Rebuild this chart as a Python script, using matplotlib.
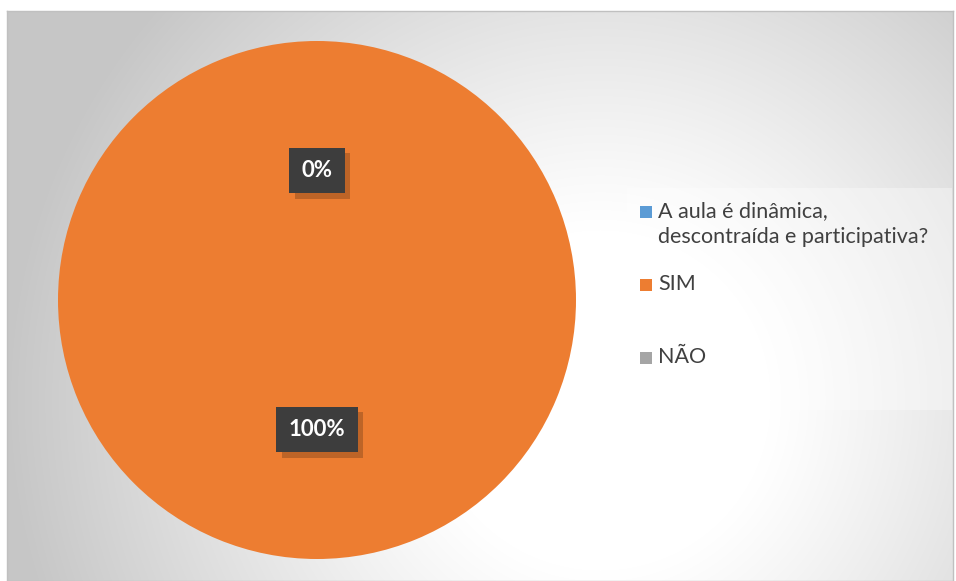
import numpy as np
import matplotlib
matplotlib.use("Agg")
import matplotlib.pyplot as plt
import matplotlib.patheffects as pe
from matplotlib.patches import Rectangle

# data
categories = ["A aula é dinâmica,\ndescontraída e participativa?", "SIM", "NÃO"]
values = [0, 100, 0]
colors = ["#5B9BD5", "#ED7D31", "#A5A5A5"]

plt.rcParams['font.family'] = ['Lato', 'DejaVu Sans']

W, H = 956, 581
fig = plt.figure(figsize=(W / 100, H / 100), dpi=100)
fig.patch.set_facecolor("white")

# chart area with a radial grey-to-white gradient
bx0, by0, bx1, by1 = 7, 11, 953, 581
bg = fig.add_axes([bx0 / W, 1 - by1 / H, (bx1 - bx0) / W, (by1 - by0) / H])
yy, xx = np.mgrid[by0:by1, bx0:bx1]
r = np.hypot(xx - 600, yy - 400)
t = np.clip((r - 170) / 420, 0, 1) ** 1.1
shade = 1 - t * (1 - 0.78)
bg.imshow(np.dstack([shade, shade, shade]), aspect="auto", interpolation="bilinear")
bg.set_xticks([])
bg.set_yticks([])
for s in bg.spines.values():
    s.set_color("#c0c0c0")
    s.set_linewidth(1)

# pie
cx, cy, rad = 317, 300, 259
ax = fig.add_axes([(cx - rad) / W, 1 - (cy + rad) / H, 2 * rad / W, 2 * rad / H])
wedges, texts, autotexts = ax.pie(values, colors=colors, startangle=90, counterclock=False,
                                  autopct=lambda p: "%.0f%%" % p, pctdistance=0.5,
                                  wedgeprops=dict(linewidth=0))
ax.set_xlim(-1, 1)
ax.set_ylim(-1, 1)
ax.set_aspect("equal")
ax.axis("off")

# first category has no visible label in the original
autotexts[0].set_visible(False)
for at in autotexts:
    at.set_color("white")
    at.set_fontsize(16)
    at.set_fontweight("bold")
    at.set_bbox(dict(boxstyle="square,pad=0.55", facecolor="#3d3d3d", edgecolor="none"))
    at.get_bbox_patch().set_path_effects([
        pe.SimplePatchShadow(offset=(4, -4), shadow_rgbFace="black", alpha=0.2),
        pe.Normal()])

# legend
fig.add_artist(Rectangle((627 / W, 1 - 410 / H), (952 - 627) / W, (410 - 188) / H,
                         transform=fig.transFigure, facecolor="white", alpha=0.35,
                         edgecolor="none"))
ys = [212, 285, 358]
for cat, col, y in zip(categories, colors, ys):
    fig.add_artist(Rectangle((640 / W, 1 - (y + 6) / H), 12 / W, 12 / H,
                             transform=fig.transFigure, facecolor=col, edgecolor="none"))
    fig.text(658 / W, 1 - (y - 11) / H, cat, fontsize=15.5, color="#404040",
             va="top", ha="left", linespacing=1.4)

fig.savefig("out.png", dpi=100)
